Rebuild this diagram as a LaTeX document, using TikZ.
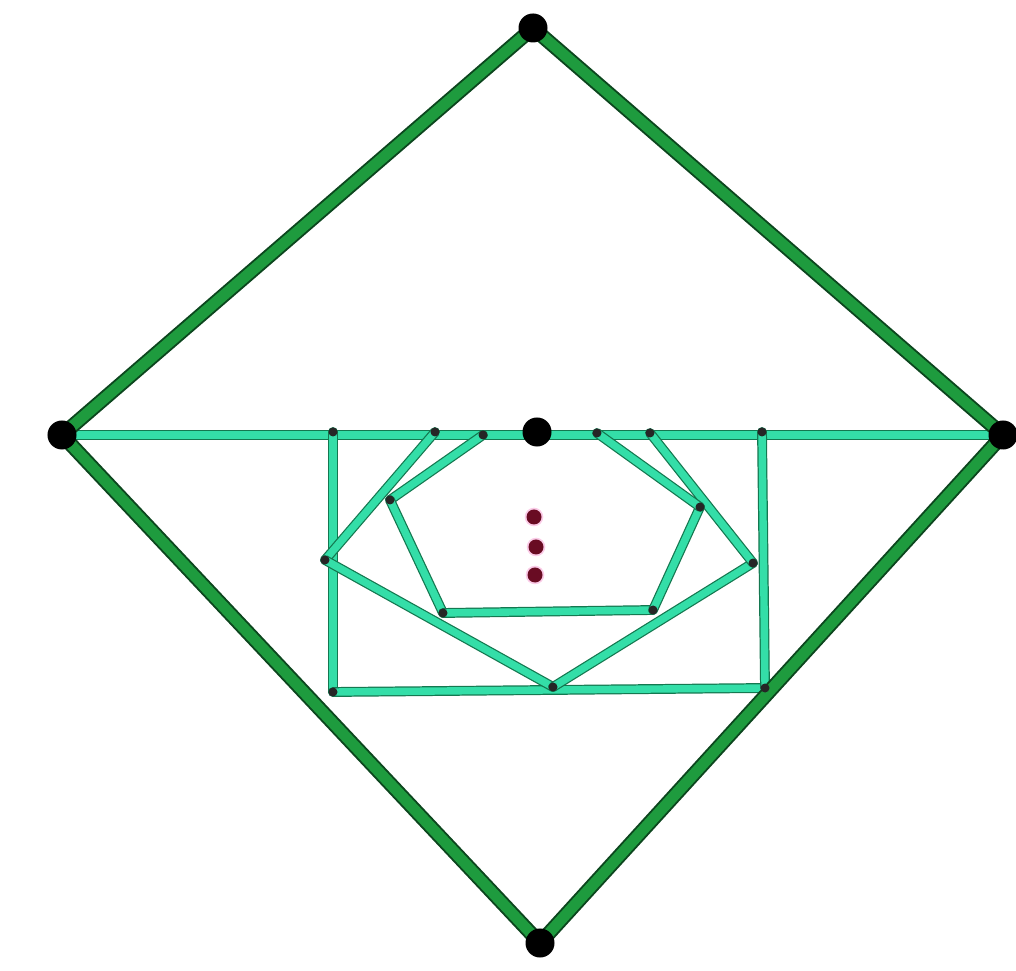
\documentclass[tikz,border=0pt]{standalone}
\usepackage{tikz}

\definecolor{verdeLado}{RGB}{30,155,62}
\definecolor{bordeLado}{RGB}{12,70,30}
\definecolor{verdeArista}{RGB}{52,222,168}
\definecolor{bordeArista}{RGB}{20,120,80}
\definecolor{granate}{RGB}{105,12,35}

\newcommand{\coordRombo}{
\coordinate (T) at (533,28);
\coordinate (L) at (62,435);
\coordinate (B) at (540,943);
\coordinate (R) at (1003,435);
\coordinate (C) at (537,432);
}
\newcommand{\coordInteriores}{
% rectangulo
\coordinate (P1) at (333,432);
\coordinate (P2) at (762,432);
\coordinate (P3) at (765,688);
\coordinate (P4) at (333,692);
% segundo nivel
\coordinate (Q1) at (435,432);
\coordinate (Q2) at (325,560);
\coordinate (Q3) at (553,687);
\coordinate (Q4) at (753,563);
\coordinate (Q5) at (650,433);
% tercer nivel
\coordinate (S1) at (483,435);
\coordinate (S2) at (390,500);
\coordinate (S3) at (443,613);
\coordinate (S4) at (653,610);
\coordinate (S5) at (700,507);
\coordinate (S6) at (597,433);
}
\newcommand{\aristasInteriores}{
\draw[arista] (L)--(R);
\draw[arista] (P1)--(P4);
\draw[arista] (P4)--(P3);
\draw[arista] (P3)--(P2);
\draw[arista] (Q1)--(Q2);
\draw[arista] (Q2)--(Q3);
\draw[arista] (Q3)--(Q4);
\draw[arista] (Q4)--(Q5);
\draw[arista] (S1)--(S2);
\draw[arista] (S2)--(S3);
\draw[arista] (S3)--(S4);
\draw[arista] (S4)--(S5);
\draw[arista] (S5)--(S6);
}
\newcommand{\ladosRombo}{
\draw[lado] (T)--(L);
\draw[lado] (L)--(B);
\draw[lado] (B)--(R);
\draw[lado] (R)--(T);
}
\newcommand{\puntosInteriores}{
\foreach \n in {P1,P2,P3,P4,Q1,Q2,Q3,Q4,Q5,S1,S2,S3,S4,S5,S6}{
\node[punto] (d\n) at (\n) {};
}
}
\newcommand{\verticesRombo}{
\foreach \n in {T,L,B,R,C}{
\node[vertice] (v\n) at (\n) {};
}
}
\tikzset{
lado/.style={draw=bordeLado,double=verdeLado,double distance=3.1pt,line width=0.55pt,line cap=round},
arista/.style={draw=bordeArista,double=verdeArista,double distance=2.1pt,line width=0.35pt,line cap=round},
vertice/.style={circle,fill=black,minimum size=2.9mm,inner sep=0pt},
punto/.style={circle,fill=black!85,minimum size=0.9mm,inner sep=0pt},
puntito/.style={circle,fill=granate,minimum size=1.5mm,inner sep=0pt,
  preaction={draw=magenta!20,line width=1pt}}
}

\begin{document}
\begin{tikzpicture}[x=0.01cm,y=-0.01cm]
    \useasboundingbox (0,0) rectangle (1016,971);
    \coordRombo
    \coordInteriores
    \aristasInteriores
    \ladosRombo
    \puntosInteriores
    \verticesRombo

    \node[puntito] (m1) at (534,517) {};
    \node[puntito] (m2) at (536,547) {};
    \node[puntito] (m3) at (535,575) {};
\end{tikzpicture}
\end{document}
